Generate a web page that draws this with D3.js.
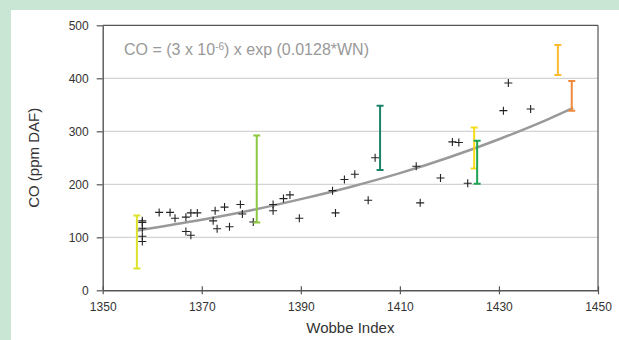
<!DOCTYPE html>
<html><head><meta charset="utf-8">
<script src="https://cdn.jsdelivr.net/npm/d3@7"></script>
<style>body{margin:0;background:#c9e5d3;}svg{display:block;font-family:"Liberation Sans",Arial,sans-serif;}</style>
</head><body>
<svg id="c" width="619" height="340"></svg>
<script>
// Data
const xTicks = [1350, 1370, 1390, 1410, 1430, 1450];
const yTicks = [0, 100, 200, 300, 400, 500];
const pointsWN = [1358,1358,1358,1358,1358,1361.4,1363.6,1364.6,1366.8,1367.8,1369.1,1366.8,1367.8,1372.7,1372.3,1373.1,1374.6,1375.6,1377.8,1378.2,1380.4,1384.4,1384.4,1386.5,1387.8,1389.7,1396.4,1397.0,1398.8,1400.9,1403.6,1405.0,1413.3,1414.1,1418.2,1420.6,1421.9,1423.7,1430.9,1431.9,1436.4];
const pointsCO = [131,128,117,102,92,147,147,136,138,146,146,111,104,150,131,116,157,120,162,144,129,162,150,173,180,136,188,146,209,219,170,250,234,165,212,280,279,202,339,391,342];
const barWN = [1356.9, 1381.1, 1406.0, 1425.0, 1425.6, 1441.9, 1444.7];
const barLow = [41, 128, 227, 230, 201, 406, 339];
const barHigh = [141, 292, 348, 307, 282, 463, 395];
const barColor = ["#dde22a", "#8cc840", "#1b8468", "#f7dc1c", "#1fa453", "#fbbb30", "#ef8a3c"];
const trendWN = [1357, 1370, 1380, 1390, 1400, 1410, 1420, 1430, 1440, 1445];
const trendCO = [113, 133, 151, 172, 195, 221, 251, 285, 323, 344];

const svg = d3.select("#c");
svg.append("rect").attr("x", 11).attr("y", 10).attr("width", 608).attr("height", 330).attr("fill", "#fff");

const x = d3.scaleLinear().domain([1350, 1450]).range([102.7, 598]);
const y = d3.scaleLinear().domain([0, 500]).range([290.3, 25.3]);

// gridlines
svg.append("g").selectAll("line").data(yTicks.filter(d => d > 0 && d < 500)).join("line")
  .attr("x1", x(1350)).attr("x2", x(1450)).attr("y1", d => y(d)).attr("y2", d => y(d))
  .attr("stroke", "#c8c8c8").attr("stroke-width", 1);

// frame top & right
svg.append("line").attr("x1", x(1350)).attr("x2", x(1450)).attr("y1", y(500)).attr("y2", y(500)).attr("stroke", "#555").attr("stroke-width", 1.2);
svg.append("line").attr("x1", x(1450)).attr("x2", x(1450)).attr("y1", y(500)).attr("y2", y(0)).attr("stroke", "#555").attr("stroke-width", 1.2);

// axes
const xAxis = svg.append("g").attr("transform", `translate(0,${y(0)})`)
  .call(d3.axisBottom(x).tickValues(xTicks).tickFormat(d3.format("d")).tickSize(5).tickSizeOuter(0));
const yAxis = svg.append("g").attr("transform", `translate(${x(1350)},0)`)
  .call(d3.axisLeft(y).tickValues(yTicks).tickSize(6).tickSizeOuter(0));
[xAxis, yAxis].forEach(g => {
  g.select(".domain").attr("stroke", "#555").attr("stroke-width", 1.4);
  g.selectAll(".tick line").attr("stroke", "#555").attr("stroke-width", 1.2);
  g.selectAll("text").attr("fill", "#333").style("font-size", "12px").style("font-family", "'Liberation Sans',Arial,sans-serif");
});
xAxis.selectAll(".tick line").attr("y1", -4).attr("y2", 4);
xAxis.selectAll("text").attr("y", 12);
yAxis.selectAll("text").attr("x", -14);

// trend curve
svg.append("path").datum(trendWN.map((w, i) => [w, trendCO[i]]))
  .attr("d", d3.line().x(d => x(d[0])).y(d => y(d[1])).curve(d3.curveMonotoneX))
  .attr("fill", "none").attr("stroke", "#999").attr("stroke-width", 2.5);

// points (+)
const pts = svg.append("g");
pointsWN.forEach((w, i) => {
  const cx = x(w), cy = y(pointsCO[i]);
  pts.append("path").attr("d", `M${cx-4},${cy}H${cx+4}M${cx},${cy-4}V${cy+4}`)
    .attr("stroke", "#222").attr("stroke-width", 1.1);
});

// error bars
const bars = svg.append("g");
barWN.forEach((w, i) => {
  const bx = x(w), y1 = y(barLow[i]), y2 = y(barHigh[i]);
  bars.append("path").attr("d", `M${bx},${y1}V${y2}M${bx-3.5},${y1}H${bx+3.5}M${bx-3.5},${y2}H${bx+3.5}`)
    .attr("stroke", barColor[i]).attr("stroke-width", 2).attr("fill", "none");
});

// annotation
const t = svg.append("text").attr("x", 124).attr("y", 55).attr("fill", "#999").style("font-size", "16px");
t.append("tspan").text("CO = (3 x 10");
t.append("tspan").text("-6").style("font-size", "10px").attr("dy", -5);
t.append("tspan").text(") x exp (0.0128*WN)").attr("dy", 5);

// axis titles
svg.append("text").attr("x", x(1400)).attr("y", 333).attr("text-anchor", "middle").attr("fill", "#333").style("font-size", "15px").text("Wobbe Index");
svg.append("text").attr("transform", `translate(39,${y(250)}) rotate(-90)`).attr("text-anchor", "middle").attr("fill", "#333").style("font-size", "15px").text("CO (ppm DAF)");
</script>
</body></html>
